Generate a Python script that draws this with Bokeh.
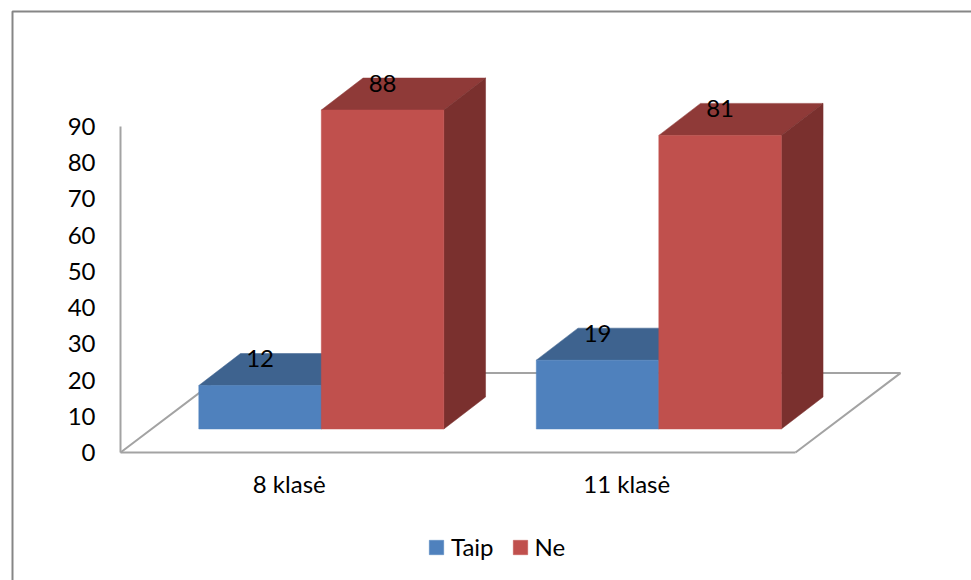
from bokeh.embed import file_html
from bokeh.models import (BoxAnnotation, ColumnDataSource, FixedTicker, Legend, LegendItem,
                          LinearAxis, Range1d)
from bokeh.plotting import figure
from bokeh.resources import INLINE
from bokeh.core.properties import value

# Survey results per grade, percent
classes = ["8 klasė", "11 klasė"]
series_names = ["Taip", "Ne"]
taip = [12, 19]
ne = [88, 81]
y_ticks = [0, 10, 20, 30, 40, 50, 60, 70, 80, 90]

FONT = "Lato"
FONT_SIZE = "24px"
TEXT_COLOR = "#000000"
AXIS_GREY = "#a3a3a3"
BLUE = ("#4f81bd", "#3e638f", "#335378")
RED = ("#c0504d", "#8f3a38", "#7a302e")

# Oblique projection, expressed in axis units: one class is one x unit,
# y is in percent.
BAR_W = 0.363
BAR_LEFT = 0.232
BAR_DX, BAR_DY = 0.1236, 8.83
BASE_Y = 6.48
FLOOR_DX, FLOOR_DY = 0.311, 21.9

W, H = 971, 580
LEFT, BOTTOM = 120, 128
PX_PER_CLASS = 337.5
PX_PER_PCT = 3.625

# The plot frame fills the page; both axes are pinned at the origin inside it
p = figure(width=W, height=H, output_backend="svg", toolbar_location=None,
           x_range=Range1d(-LEFT / PX_PER_CLASS, (W - LEFT) / PX_PER_CLASS),
           y_range=Range1d(-BOTTOM / PX_PER_PCT, (H - BOTTOM) / PX_PER_PCT),
           x_axis_type=None, y_axis_type=None,
           min_border_left=0, min_border_bottom=0,
           min_border_top=0, min_border_right=0)
p.xgrid.visible = False
p.ygrid.visible = False
p.outline_line_color = None
p.background_fill_color = "white"
p.border_fill_color = "white"

n = len(classes)

# Floor of the 3D plot: front edge comes from the x axis, the other three are drawn
p.line([n, n + FLOOR_DX, FLOOR_DX, 0], [0, FLOOR_DY, FLOOR_DY, 0],
       line_color=AXIS_GREY, line_width=2)

yaxis = LinearAxis(ticker=FixedTicker(ticks=y_ticks), bounds=(0, 90), fixed_location=0)
yaxis.axis_line_color = AXIS_GREY
yaxis.axis_line_width = 2
yaxis.major_tick_line_color = None
yaxis.minor_tick_line_color = None
yaxis.major_label_text_font = FONT
yaxis.major_label_text_font_size = FONT_SIZE
yaxis.major_label_text_color = TEXT_COLOR
yaxis.major_label_standoff = 19
p.add_layout(yaxis, "left")

xaxis = LinearAxis(ticker=FixedTicker(ticks=[i + 0.5 for i in range(n)]), bounds=(0, n),
                   fixed_location=0)
xaxis.major_label_overrides = {i + 0.5: c for i, c in enumerate(classes)}
xaxis.axis_line_color = AXIS_GREY
xaxis.axis_line_width = 2
xaxis.major_tick_line_color = None
xaxis.minor_tick_line_color = None
xaxis.major_label_text_font = FONT
xaxis.major_label_text_font_size = FONT_SIZE
xaxis.major_label_text_color = TEXT_COLOR
xaxis.major_label_standoff = 10
p.add_layout(xaxis, "below")


def draw_series(values, slot, colors):
    """Draw one box per class, with its top and side faces, and return the front renderer."""
    lefts = [i + BAR_LEFT + slot * BAR_W for i in range(n)]
    rights = [x + BAR_W for x in lefts]
    tops = [BASE_Y + v for v in values]

    p.patches([[l, l + BAR_DX, r + BAR_DX, r] for l, r in zip(lefts, rights)],
              [[t, t + BAR_DY, t + BAR_DY, t] for t in tops],
              fill_color=colors[1], line_color=colors[1], line_width=0.5)
    p.patches([[r, r + BAR_DX, r + BAR_DX, r] for r in rights],
              [[BASE_Y, BASE_Y + BAR_DY, t + BAR_DY, t] for t in tops],
              fill_color=colors[2], line_color=colors[2], line_width=0.5)
    front = p.quad(left=lefts, right=rights, bottom=BASE_Y, top=tops,
                   fill_color=colors[0], line_color=colors[0], line_width=0.5)

    labels.append(ColumnDataSource(dict(x=[(l + r) / 2 for l, r in zip(lefts, rights)],
                                        y=tops, label=[str(v) for v in values])))
    return front


labels = []
taip_bars = draw_series(taip, 0, BLUE)
ne_bars = draw_series(ne, 1, RED)

# Value labels go on last so that they sit above every face
for src in labels:
    p.text("x", "y", text="label", source=src, text_font=value(FONT),
           text_font_size=FONT_SIZE, text_color=TEXT_COLOR, text_align="center",
           text_baseline="middle", y_offset=-27)

legend = Legend(items=[LegendItem(label=series_names[0], renderers=[taip_bars]),
                       LegendItem(label=series_names[1], renderers=[ne_bars])],
                orientation="horizontal", location=(427, 19),
                background_fill_alpha=0, border_line_color=None,
                glyph_width=18, glyph_height=18, spacing=17, label_standoff=6,
                padding=0, margin=0, label_text_font=FONT,
                label_text_font_size=FONT_SIZE, label_text_color=TEXT_COLOR)
p.add_layout(legend, "center")

# Chart area edge: only its top and left sides fall inside the page
p.add_layout(BoxAnnotation(left=12, right=W + 20, top=11, bottom=H + 20,
                           left_units="canvas", right_units="canvas",
                           top_units="canvas", bottom_units="canvas",
                           fill_alpha=0, line_color="#868686", line_alpha=1, line_width=2))

open("out.html", "w").write(file_html(p, INLINE))
